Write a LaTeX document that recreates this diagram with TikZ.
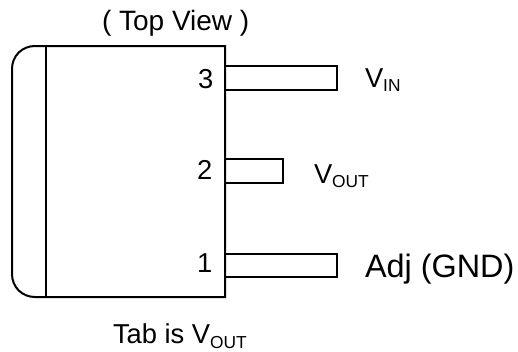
\documentclass[tikz,border=0pt]{standalone}
\usepackage{fontspec}
\setmainfont{Liberation Sans}
\newcommand{\fs}[1]{\fontsize{#1}{#1}\selectfont}
\newcommand{\lowered}[1]{\raisebox{-3.5pt}{\fs{13}#1}}
\tikzset{
  x=0.75pt,y=-0.75pt,
  outline/.style={draw=black,line width=1.5pt,line join=miter},
  lbl/.style={inner sep=0pt,outer sep=0pt,anchor=base west,text=black},
  small/.style={lbl,font=\fs{20.5}},
  big/.style={lbl,font=\fs{24.3}}
}
\begin{document}
\begin{tikzpicture}
\useasboundingbox (0,0) rectangle (518,351);
% package body
\draw[outline] (225,46) -- (35,46) .. controls (22,46) and (12,56) .. (12,69) -- (12,274) .. controls (12,287) and (22,297) .. (35,297) -- (225,297) -- cycle;
\draw[outline] (46,46) -- (46,297);
% pins
\draw[outline] (225,65.5) rectangle (336.5,89.5);
\draw[outline] (225,159) rectangle (283,183);
\draw[outline] (225,253.5) rectangle (336.5,276.5);
% labels
\node[small,font=\fs{21}] (title) at (102,30) {( Top View )};
\node[small] (p3) at (198,88) {3};
\node[small] (p2) at (197,179) {2};
\node[small] (p1) at (197,272) {1};
\node[small] (vin) at (365,87) {V\lowered{IN}};
\node[small] (vout) at (314,183) {V\lowered{OUT}};
\node[big] (adj) at (365,277) {Adj (GND)};
\node[small] (tab) at (113,343.5) {Tab is V\lowered{OUT}};
\end{tikzpicture}
\end{document}
